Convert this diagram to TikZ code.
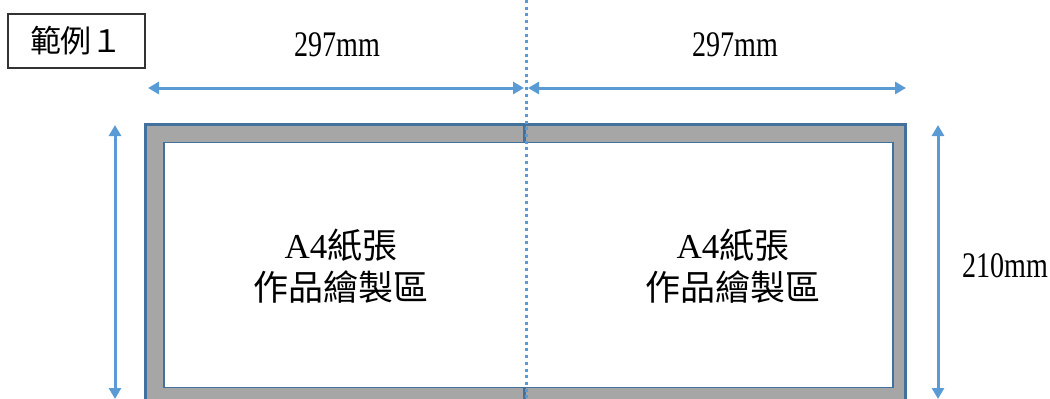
\documentclass[tikz,border=0pt]{standalone}
\usepackage{fontspec}
\setmainfont{Liberation Serif}
\newfontfamily\cjk{Noto Sans CJK TC}
\usetikzlibrary{arrows.meta}
\definecolor{arrowblue}{RGB}{91,155,213}
\definecolor{edgeblue}{RGB}{65,113,156}
\definecolor{bandgray}{RGB}{166,166,166}
\tikzset{
  dimarrow/.style={draw=arrowblue, line width=3pt, {Triangle[length=11pt,width=12pt]}-{Triangle[length=11pt,width=12pt]}},
  dimlabel/.style={font=\fontsize{36}{40}\selectfont, xscale=0.78, inner sep=0pt},
  worklabel/.style={font=\fontsize{35}{42}\selectfont, align=center, inner sep=0pt},
}
\begin{document}
\begin{tikzpicture}[x=1pt,y=-1pt]
\useasboundingbox (0,0) rectangle (1050,399);
% outer band
\fill[bandgray] (145.5,124.5) rectangle (905.5,420);
\draw[edgeblue, line width=3.6pt] (145.5,420) -- (145.5,124.5) -- (905.5,124.5) -- (905.5,420);
% inner work area
\node[draw=edgeblue, line width=1.8pt, fill=white, minimum width=729pt, minimum height=245pt, inner sep=0pt, anchor=north west] (inner) at (163,141.5) {};
% divider in band
\coordinate (dtop) at (524,124.5);
\coordinate (dbot) at (524,399);
\draw[edgeblue, line width=3pt] (dtop) -- (inner.north -| dtop);
\draw[edgeblue, line width=3pt] (inner.south -| dtop) -- (dbot);
% dotted fold line
\coordinate (ftop) at (526,0);
\coordinate (fbot) at (526,399);
\draw[arrowblue, line width=3pt, dash pattern=on 3pt off 3.7pt] (ftop) -- (fbot);
% horizontal dimension arrows
\coordinate (h1) at (148,88);
\coordinate (h2) at (524,88);
\coordinate (h3) at (528,88);
\coordinate (h4) at (906,88);
\draw[dimarrow] (h1) -- (h2);
\draw[dimarrow] (h3) -- (h4);
% vertical dimension arrows
\coordinate (v1) at (115,125);
\coordinate (v2) at (115,399);
\coordinate (v3) at (938,125);
\coordinate (v4) at (938,399);
\draw[dimarrow] (v1) -- (v2);
\draw[dimarrow] (v3) -- (v4);
% labels
\node[dimlabel] (w1) at (337,45) {297mm};
\node[dimlabel] (w2) at (735,45) {297mm};
\node[dimlabel] (hgt) at (1005,266) {210mm};
\node[worklabel] (t1) at (341,266) {A4{\cjk 紙張}\\{\cjk 作品繪製區}};
\node[worklabel] (t2) at (733,266) {A4{\cjk 紙張}\\{\cjk 作品繪製區}};
% example tag
\node[draw=black!80, line width=1.4pt, minimum width=137pt, minimum height=54pt, inner sep=0pt, font=\cjk\fontsize{31}{34}\selectfont] (tag) at (76.5,41) {範例１};
\end{tikzpicture}
\end{document}
